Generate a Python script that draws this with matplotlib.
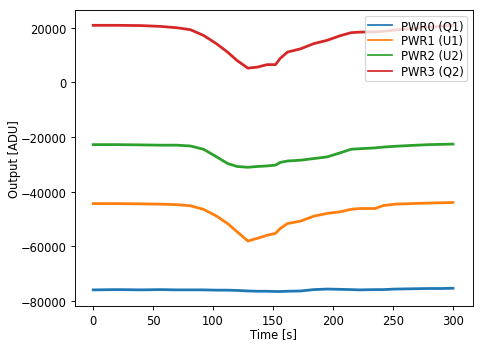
import matplotlib
matplotlib.use('Agg')
import matplotlib.pyplot as plt

# readings, time in seconds
time_s = [0, 20, 40, 56, 70, 81, 92, 103, 112, 120, 129, 137, 145, 152, 156,
          162, 173, 184, 195, 206, 215, 222, 235, 242, 252, 265, 280, 290, 300]

pwr0 = [-76000, -75900, -76000, -75900, -76000, -76000, -76000, -76100, -76100,
        -76200, -76400, -76500, -76500, -76600, -76600, -76500, -76400, -75900,
        -75700, -75800, -75900, -76000, -75900, -75900, -75700, -75600, -75500,
        -75500, -75400]
pwr1 = [-44400, -44400, -44500, -44600, -44800, -45200, -46500, -49000, -51700,
        -54700, -58100, -57100, -56000, -55300, -53500, -51700, -50800, -49000,
        -48000, -47400, -46500, -46200, -46200, -45100, -44600, -44400, -44200,
        -44100, -44000]
pwr2 = [-22800, -22800, -22900, -23000, -23000, -23300, -24500, -27300, -29700,
        -30800, -31100, -30800, -30600, -30300, -29300, -28800, -28500, -27900,
        -27300, -25800, -24500, -24300, -24000, -23700, -23400, -23100, -22800,
        -22700, -22600]
pwr3 = [20900, 20900, 20800, 20500, 20000, 19300, 17200, 14100, 11100,
        8000, 5200, 5600, 6500, 6500, 8800, 11100, 12300, 14200,
        15400, 17100, 18200, 18400, 18500, 18700, 19200, 19700, 20300,
        20600, 20900]

labels = ['PWR0 (Q1)', 'PWR1 (U1)', 'PWR2 (U2)', 'PWR3 (Q2)']

dpi = 83
fig = plt.figure(figsize=(483 / dpi, 347 / dpi), dpi=dpi)
ax = fig.add_axes([0.155, 0.115, 0.824, 0.853])

for series, lab in zip([pwr0, pwr1, pwr2, pwr3], labels):
    ax.plot(time_s, series, lw=2.4, label=lab)

ax.set_xlim(-15.3, 316.6)
ax.set_ylim(-81940, 26470)
ax.set_xlabel('Time [s]', labelpad=0)
ax.set_ylabel('Output [ADU]', labelpad=0)

leg = ax.legend(loc='upper right', labelspacing=0.18, borderpad=0.3)
for h in leg.get_lines():
    h.set_linewidth(1.5)

fig.savefig('out.png', dpi=dpi)
